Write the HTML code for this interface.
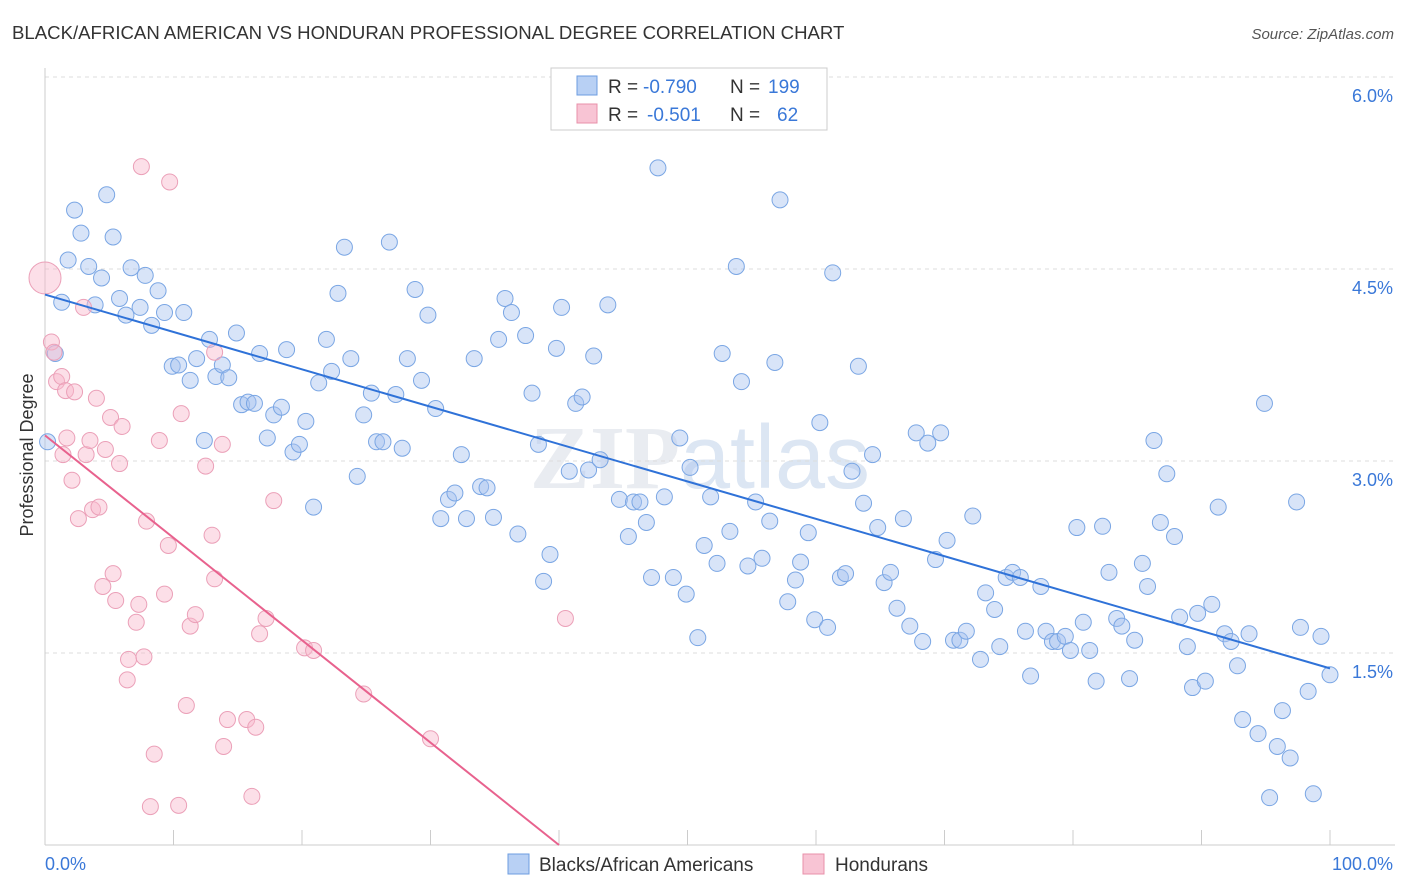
<!DOCTYPE html>
<html><head><meta charset="utf-8"><style>
body{margin:0;background:#fff;font-family:"Liberation Sans",sans-serif;}
#wrap{position:relative;width:1406px;height:892px;overflow:hidden;}
</style></head><body>
<div id="wrap">
<svg id="svg" width="1406" height="892" xmlns="http://www.w3.org/2000/svg">
<text x="12" y="39" font-size="18.6" fill="#333">BLACK/AFRICAN AMERICAN VS HONDURAN PROFESSIONAL DEGREE CORRELATION CHART</text>
<text x="1394" y="39" font-size="15" fill="#555" font-style="italic" text-anchor="end">Source: ZipAtlas.com</text>
<text x="0" y="0" transform="translate(33,455) rotate(-90)" font-size="18" fill="#333" text-anchor="middle">Professional Degree</text>
<text x="700" y="488" font-size="90" fill="#e9ecf1" text-anchor="middle" font-weight="bold" font-family="Liberation Serif,serif">ZIP<tspan font-family="Liberation Sans,sans-serif" font-weight="normal" fill="#dce6f3">atlas</tspan></text>
<g id="grid"></g><g id="pts"></g><g id="lines"></g>
<g>
<rect x="551" y="68" width="276" height="62" fill="#fff" stroke="#ccc"/>
<rect x="577" y="76" width="20" height="19" fill="#b8d0f4" stroke="#6d9de0"/>
<rect x="577" y="104" width="20" height="19" fill="#f8c4d4" stroke="#e890aa"/>
<g font-size="19" fill="#333">
<text x="608" y="93">R =</text><text x="643" y="93" fill="#3a78d8">-0.790</text><text x="730" y="93">N =</text><text x="768" y="93" fill="#3a78d8">199</text></g>
<g font-size="19" fill="#333">
<text x="608" y="121">R =</text><text x="647" y="121" fill="#3a78d8">-0.501</text><text x="730" y="121">N =</text><text x="777" y="121" fill="#3a78d8">62</text></g>
</g>
<g>
<rect x="508" y="854" width="21" height="20" fill="#b8d0f4" stroke="#6d9de0"/>
<text x="539" y="871" font-size="19" fill="#333">Blacks/African Americans</text>
<rect x="803" y="854" width="21" height="20" fill="#f8c4d4" stroke="#e890aa"/>
<text x="835" y="871" font-size="19" fill="#333">Hondurans</text>
</g>
<text x="45" y="870" font-size="18" fill="#3a78d8">0.0%</text>
<text x="1393" y="870" font-size="18" fill="#3a78d8" text-anchor="end">100.0%</text>
</svg></div>
<script>
const yTicks=[1.5,3.0,4.5,6.0];
const blueX=[0.2,0.8,1.3,1.8,2.3,2.8,3.4,3.9,4.4,4.8,5.3,5.8,6.3,6.7,7.4,7.8,8.3,8.8,9.3,9.9,10.4,10.8,11.3,11.8,12.4,12.8,13.3,13.8,14.3,14.9,15.3,15.8,16.3,16.7,17.3,17.8,18.4,18.8,19.3,19.8,20.3,20.9,21.3,21.9,22.3,22.8,23.3,23.8,24.3,24.8,25.4,25.8,26.3,26.8,27.3,27.8,28.2,28.8,29.3,29.8,30.4,30.8,31.4,31.9,32.4,32.8,33.4,33.9,34.4,34.9,35.3,35.8,36.3,36.8,37.4,37.9,38.4,38.8,39.3,39.8,40.2,40.8,41.3,41.8,42.3,42.7,43.2,43.8,44.7,45.4,45.8,46.3,46.8,47.2,47.7,48.2,48.9,49.4,49.9,50.2,50.8,51.3,51.8,52.3,52.7,53.3,53.8,54.2,54.7,55.3,55.8,56.4,56.8,57.2,57.8,58.4,58.8,59.4,59.9,60.3,60.9,61.3,61.9,62.3,62.8,63.3,63.7,64.4,64.8,65.3,65.8,66.3,66.8,67.3,67.8,68.3,68.7,69.3,69.7,70.2,70.7,71.2,71.7,72.2,72.8,73.2,73.9,74.3,74.8,75.3,75.9,76.3,76.7,77.5,77.9,78.4,78.8,79.4,79.8,80.3,80.8,81.3,81.8,82.3,82.8,83.4,83.8,84.4,84.8,85.4,85.8,86.3,86.8,87.3,87.9,88.3,88.9,89.3,89.7,90.3,90.8,91.3,91.8,92.3,92.8,93.2,93.7,94.4,94.9,95.3,95.9,96.3,96.9,97.4,97.7,98.3,98.7,99.3,100];
const blueY=[3.15,3.84,4.24,4.57,4.96,4.78,4.52,4.22,4.43,5.08,4.75,4.27,4.14,4.51,4.20,4.45,4.06,4.33,4.16,3.74,3.75,4.16,3.63,3.80,3.16,3.95,3.66,3.75,3.65,4.0,3.44,3.46,3.45,3.84,3.18,3.36,3.42,3.87,3.07,3.13,3.31,2.64,3.61,3.95,3.70,4.31,4.67,3.80,2.88,3.36,3.53,3.15,3.15,4.71,3.52,3.10,3.80,4.34,3.63,4.14,3.41,2.55,2.70,2.75,3.05,2.55,3.80,2.80,2.79,2.56,3.95,4.27,4.16,2.43,3.98,3.53,3.13,2.06,2.27,3.88,4.20,2.92,3.45,3.50,2.93,3.82,3.01,4.22,2.70,2.41,2.68,2.68,2.52,2.09,5.29,2.72,2.09,3.18,1.96,2.95,1.62,2.34,2.72,2.20,3.84,2.45,4.52,3.62,2.18,2.68,2.24,2.53,3.77,5.04,1.90,2.07,2.21,2.44,1.76,3.30,1.70,4.47,2.09,2.12,2.92,3.74,2.67,3.05,2.48,2.05,2.13,1.85,2.55,1.71,3.22,1.59,3.14,2.23,3.22,2.38,1.60,1.60,1.67,2.57,1.45,1.97,1.84,1.55,2.09,2.13,2.09,1.67,1.32,2.02,1.67,1.59,1.59,1.63,1.52,2.48,1.74,1.52,1.28,2.49,2.13,1.77,1.71,1.30,1.60,2.20,2.02,3.16,2.52,2.90,2.41,1.78,1.55,1.23,1.81,1.28,1.88,2.64,1.65,1.59,1.40,0.98,1.65,0.87,3.45,0.37,0.77,1.05,0.68,2.68,1.70,1.20,0.40,1.63,1.33];
const pinkX=[0,0.5,0.7,0.9,1.3,1.6,1.7,2.1,1.4,2.3,2.6,3.0,3.2,3.5,3.7,4.0,4.2,4.5,4.7,5.1,5.3,5.5,5.8,6.0,6.4,6.5,7.1,7.3,7.5,7.7,7.9,8.2,8.5,8.9,9.3,9.6,9.7,10.4,10.6,11.0,11.3,11.7,12.5,13.0,13.2,13.2,13.8,13.9,14.2,15.7,16.1,16.4,16.7,17.2,17.8,20.2,20.9,24.8,30.0,40.5];
const pinkY=[4.43,3.93,3.85,3.62,3.66,3.55,3.18,2.85,3.05,3.54,2.55,4.20,3.05,3.16,2.62,3.49,2.64,2.02,3.09,3.34,2.12,1.91,2.98,3.27,1.29,1.45,1.74,1.88,5.30,1.47,2.53,0.30,0.71,3.16,1.96,2.34,5.18,0.31,3.37,1.09,1.71,1.80,2.96,2.42,2.08,3.85,3.13,0.77,0.98,0.98,0.38,0.92,1.65,1.77,2.69,1.54,1.52,1.18,0.83,1.77];
const blueFit=[4.30,1.38];
const pinkFit=[3.20,0,40];
const X=v=>45+v*12.85, Y=v=>845-v*128;
const NS='http://www.w3.org/2000/svg';
function mk(t,a,p){const e=document.createElementNS(NS,t);for(const k in a)e.setAttribute(k,a[k]);p.appendChild(e);return e;}
const grid=document.getElementById('grid');
yTicks.forEach(t=>{
 const l=mk('line',{x1:45,x2:1395,y1:Y(t),y2:Y(t),stroke:'#ddd','stroke-dasharray':'4,4'},grid);
 
 
 const tx=mk('text',{x:1393,y:Y(t)+25,'font-size':18,fill:'#3a78d8','text-anchor':'end'},grid);
 tx.textContent=t.toFixed(1)+'%';
 
 
});
mk('line',{x1:45,x2:45,y1:68,y2:845,stroke:'#ccc'},grid);
mk('line',{x1:45,x2:1395,y1:845,y2:845,stroke:'#ccc'},grid);
for(let i=0;i<=10;i++){mk('line',{x1:X(i*10),x2:X(i*10),y1:845,y2:830,stroke:'#ccc'},grid);}
const pts=document.getElementById('pts');
blueX.forEach((x,i)=>{
 const c=mk('circle',{cx:X(x),cy:Y(blueY[i]),r:8,fill:'rgba(168,196,240,0.45)',stroke:'#7aa6e4','stroke-width':1},pts);
 
 
});
pinkX.forEach((x,i)=>{
 const c=mk('circle',{cx:X(x),cy:Y(pinkY[i]),r:i==0?16:8,fill:'rgba(248,184,204,0.45)',stroke:'#eba0b8','stroke-width':1},pts);
 
 
});
const lines=document.getElementById('lines');
const bl=mk('line',{x1:X(0),y1:Y(blueFit[0]),x2:X(100),y2:Y(blueFit[1]),stroke:'#2f72d8','stroke-width':2},lines);


const pl=mk('line',{x1:X(0),y1:Y(pinkFit[0]),x2:X(pinkFit[2]),y2:Y(pinkFit[1]),stroke:'#e8628e','stroke-width':2},lines);


</script>
</body></html>
